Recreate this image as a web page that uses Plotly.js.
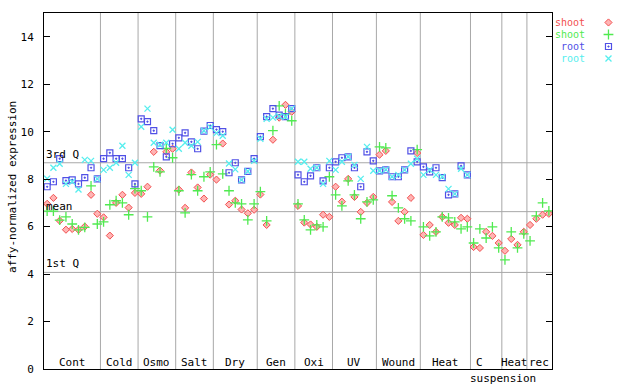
<!DOCTYPE html>
<html><head><meta charset="utf-8">
<script src="https://cdn.plot.ly/plotly-3.0.1.min.js"></script>
<style>html,body{margin:0;padding:0;background:#fff}#c{width:640px;height:384px}</style>
</head><body><div id="c"></div>
<script>
// Condition groups along the x axis (number of samples in each)
const groupLabels = ["Cont","Cold","Osmo","Salt","Dry","Gen","Oxi","UV","Wound","Heat","C","Heat","rec"];
const groupSizes  = [9,6,6,6,7,6,6,7,7,8,5,4,4];
const subLabel = "suspension";

// Reference lines
const refNames = ["3rd Q","mean","1st Q"];
const refValues = [8.69, 6.63, 4.07];

// Series values (one per sample, in x order)
const shoot1 = [6.96,7.21,6.25,5.87,5.90,5.87,6.00,7.34,6.54,
  6.39,5.62,7.00,7.34,6.80,7.42,
  7.38,7.68,9.15,8.36,9.15,9.28,
  7.56,6.79,8.28,7.65,7.18,8.19,
  7.98,9.50,6.93,7.09,6.72,6.56,6.71,
  7.35,6.07,9.66,10.59,11.13,10.84,
  6.87,6.17,6.09,5.99,6.50,6.41,
  7.68,7.05,8.01,7.25,6.62,7.00,7.25,
  9.03,9.19,7.04,6.24,6.62,7.21,9.10,
  5.65,6.07,5.78,6.41,6.16,6.07,6.37,6.33,
  5.14,5.10,5.78,5.61,5.31,
  4.98,5.48,5.23,5.78,
  6.07,6.33,6.50,6.54];
const shoot2 = [6.65,6.65,6.27,6.41,6.11,5.86,5.97,7.72,6.11,
  6.20,6.92,7.09,7.00,6.50,7.60,
  7.51,6.41,8.52,8.31,9.29,8.90,
  7.51,6.58,8.19,7.51,8.10,8.31,
  9.45,8.22,7.51,7.00,6.96,6.28,6.96,
  7.47,6.24,10.04,11.09,10.75,10.46,
  6.96,6.28,5.86,6.07,5.99,8.10,
  7.34,6.87,7.93,7.34,6.33,7.04,7.13,
  9.36,9.32,7.30,6.79,6.33,6.24,9.24,
  5.99,5.61,5.78,6.41,6.37,6.20,5.90,5.99,
  5.31,5.90,5.52,5.99,5.10,
  4.60,5.78,5.10,5.69,
  5.40,6.45,7.00,6.66];
const root1 = [7.68,7.89,8.86,7.94,7.97,7.80,8.06,8.48,8.01,
  8.86,9.11,8.86,8.86,8.48,7.80,
  10.54,10.42,10.04,9.41,8.94,9.49,
  9.74,9.95,9.57,9.28,10.02,10.26,
  10.09,10.00,8.27,8.69,7.97,8.33,8.86,
  9.79,10.63,10.97,10.70,10.63,10.97,
  8.18,7.89,8.14,8.48,7.93,8.48,
  8.73,8.90,8.94,8.48,7.68,9.15,8.77,
  8.35,8.39,8.10,8.10,8.39,9.19,8.73,
  8.52,8.31,8.48,8.06,7.34,7.38,8.56,8.18];
const root2 = [8.02,8.48,8.65,7.80,7.89,7.56,8.81,8.77,8.01,
  8.39,8.48,8.69,9.41,8.18,8.69,
  10.21,10.97,9.53,9.45,9.53,10.08,
  9.28,9.53,9.41,9.57,10.04,10.19,
  9.94,9.83,8.66,8.41,7.97,8.33,8.77,
  9.70,10.54,10.59,10.65,10.63,10.97,
  8.73,8.73,8.44,8.48,7.80,8.77,
  8.39,8.73,8.94,8.60,8.01,9.36,8.35,
  8.35,8.40,8.10,8.18,8.39,8.65,8.86,
  8.18,8.39,8.18,8.10,7.59,7.38,8.44,8.18];

const seriesNames = ["shoot","shoot","root","root"];
const seriesColors = ["#f25050","#50ea50","#5050e6","#55eeee"];
const yTicks = [0,2,4,6,8,10,12,14];
const yTitle = "affy-normalized expression";

const FONT = "DejaVu Sans Mono";
const idx = a => a.map((_, i) => i);
const nTotal = groupSizes.reduce((a,b)=>a+b,0);

const styles = [
  {symbol:"diamond", size:5.5, color:"#ffb4b4", line:{color:seriesColors[0], width:1}},
  {symbol:"cross-thin-open", size:7, color:seriesColors[1], line:{color:seriesColors[1], width:1.3}},
  {symbol:"square-open-dot", size:6, color:seriesColors[2], line:{color:seriesColors[2], width:1.2}},
  {symbol:"x-thin-open", size:6, color:seriesColors[3], line:{color:seriesColors[3], width:1.3}}
];
const data = [shoot1, shoot2, root1, root2].map((v, k) => ({
  type:"scatter", mode:"markers", x: idx(v), y: v, name: seriesNames[k],
  marker: styles[k], showlegend:false, xaxis:"x", yaxis:"y", hoverinfo:"skip"
}));
// legend keys (one row per series) on a small helper axis
seriesNames.forEach((n, k) => {
  data.push({type:"scatter", mode:"markers", x:[0], y:[seriesNames.length-1-k],
    marker: styles[k], showlegend:false, xaxis:"x2", yaxis:"y2", hoverinfo:"skip"});
});

const mainW = 508/576;
const shapes = [];
const annotations = [];
let start = 0;
groupSizes.forEach((s, g) => {
  const end = start + s;
  if (end < nTotal) shapes.push({type:"line", xref:"x", yref:"paper", x0:end-0.5, x1:end-0.5, y0:0, y1:1,
    line:{color:"#a8a8a8", width:1}, layer:"below"});
  const c = (start + end - 1)/2;
  const isC = groupLabels[g] === "C";
  annotations.push({xref:"x", yref:"paper", x:c, y:0, yanchor:"bottom", xanchor:"center",
    xshift: isC ? -7 : 0, yshift:-2, text:groupLabels[g], showarrow:false,
    font:{family:FONT, size:11, color:"#000"}});
  if (isC) annotations.push({xref:"x", yref:"paper", x:c, y:0, yanchor:"top", xanchor:"center",
    xshift:17, yshift:-1, text:subLabel, showarrow:false, font:{family:FONT, size:11, color:"#000"}});
  start = end;
});
refValues.forEach((v, k) => {
  shapes.push({type:"line", xref:"paper", yref:"y", x0:0, x1:mainW, y0:v, y1:v,
    line:{color:"#a8a8a8", width:1}, layer:"below"});
  annotations.push({xref:"paper", yref:"y", x:0, y:v, xanchor:"left", yanchor:"bottom",
    yshift: refNames[k]==="mean" ? -3 : 0, text:refNames[k], showarrow:false,
    font:{family:FONT, size:11, color:"#000"}});
});
seriesNames.forEach((n, k) => {
  annotations.push({xref:"paper", yref:"y2", x:(586-44)/576, y:seriesNames.length-1-k,
    xanchor:"right", yanchor:"middle", borderpad:0, text:n, showarrow:false,
    font:{family:FONT, size:10, color:seriesColors[k]}});
});
// y-axis title, placed in the left margin
annotations.push({xref:"paper", yref:"paper", x:0, y:0.5, xanchor:"center", yanchor:"middle",
  xshift:-32, yshift:4, textangle:-90, text:yTitle, showarrow:false,
  font:{family:FONT, size:11, color:"#000"}});

const layout = {
  width:640, height:384,
  margin:{l:44, r:20, t:13, b:15, pad:0},
  paper_bgcolor:"#fff", plot_bgcolor:"#fff",
  showlegend:false,
  xaxis:{domain:[0, mainW], range:[-0.5, nTotal-0.5], showgrid:false, zeroline:false,
    showticklabels:false, ticks:"", showline:true, linecolor:"#000", linewidth:1, mirror:true,
    fixedrange:true},
  yaxis:{range:[0,15], tickvals:yTicks, ticktext:yTicks.map(String), ticks:"inside", ticklen:6,
    tickcolor:"#000", showline:true, linecolor:"#000", linewidth:1, mirror:"ticks",
    showgrid:false, zeroline:false, tickfont:{family:FONT, size:11, color:"#000"},
    ticklabelstandoff:7},
  xaxis2:{domain:[0.96,1], range:[-1,1], visible:false, fixedrange:true, anchor:"y2"},
  yaxis2:{domain:[0.85,1], range:[-0.66,3.79], visible:false, fixedrange:true, anchor:"x2"},
  shapes, annotations
};
Plotly.newPlot("c", data, layout, {staticPlot:true, displayModeBar:false});
</script></body></html>
